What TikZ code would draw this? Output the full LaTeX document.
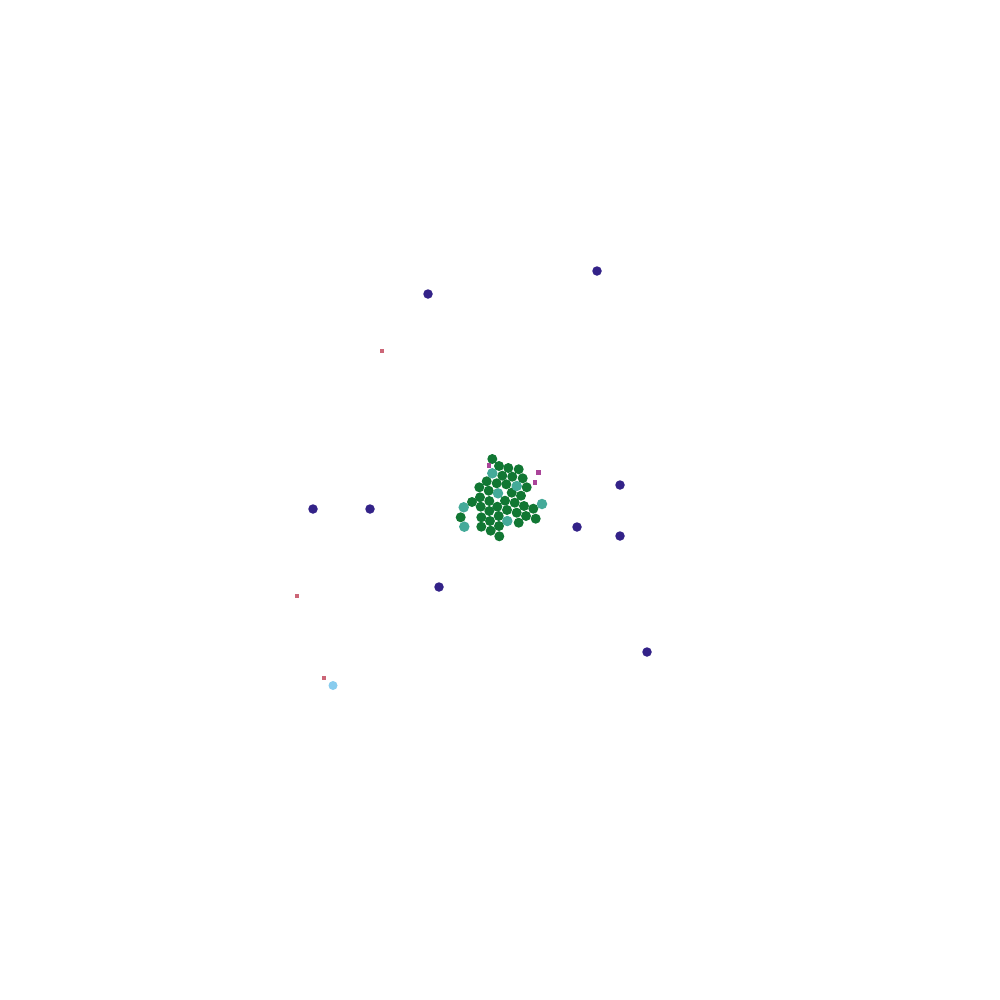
\documentclass[tikz,border=0pt]{standalone}
\usepackage{xcolor}
\usepackage{tikz}
\definecolor{tolindigo}{HTML}{332288}
\definecolor{tolgreen}{HTML}{117733}
\definecolor{tolteal}{HTML}{44AA99}
\definecolor{tolcyan}{HTML}{88CCEE}
\definecolor{tolrose}{HTML}{CC6677}
\definecolor{tolpurple}{HTML}{AA4499}
\tikzset{
    bigdot/.style={circle, fill=#1, inner sep=0pt, minimum size=0.1cm},
    smalldot/.style={rectangle, fill=#1, inner sep=0pt, minimum size=0.045cm}
}

\begin{document}
\begin{tikzpicture}[x=0.01cm, y=-0.01cm]
    \useasboundingbox (0,0) rectangle (1000,1000);
    \foreach \px/\py [count=\i] in {597/271, 428/294, 620/485, 313/509, 370/509, 577/527, 620/536, 439/587, 647/652}
        \node[bigdot=tolindigo, minimum size=0.095cm] (hub\i) at (\px,\py) {};
    \foreach \px/\py [count=\i] in {492.3/459, 499/466, 508.3/468, 518.7/469.3, 502.3/475.7, 512.3/476.7, 522.7/478.3, 486.7/481.3, 496.7/483.3, 506.3/484.3, 526.7/487.3, 479.3/487.3, 488.7/490.7, 511.7/492.7, 521/495.7, 480/497.3, 489.3/501, 505/500.7, 514.7/502.7, 472/502, 480.7/506.7, 497.3/506.7, 524/506, 533.3/508.7, 489.3/511, 507/510, 516.7/512.7, 460.7/517.3, 481.3/517.3, 498.7/516, 526/516, 535.7/518.7, 490/521, 518.7/522.7, 481.3/526.7, 499/526, 490.7/530.7, 499.3/536.3}
        \node[bigdot=tolgreen] (core\i) at (\px,\py) {};
    \foreach \px/\py [count=\i] in {492.3/473.3, 516.7/486, 498/493.3, 542/504, 463.7/507.3, 507.3/521, 464.3/526.7}
        \node[bigdot=tolteal, minimum size=0.105cm] (rim\i) at (\px,\py) {};
    \foreach \px/\py [count=\i] in {489/465.7, 538.3/472.3, 535/482.7}
        \node[smalldot=tolpurple] (tick\i) at (\px,\py) {};
    \foreach \px/\py [count=\i] in {382/351, 297/596, 324/678}
        \node[smalldot=tolrose] (speck\i) at (\px,\py) {};
    \node[bigdot=tolcyan, minimum size=0.09cm] (lone) at (333,685.5) {};
\end{tikzpicture}
\end{document}
